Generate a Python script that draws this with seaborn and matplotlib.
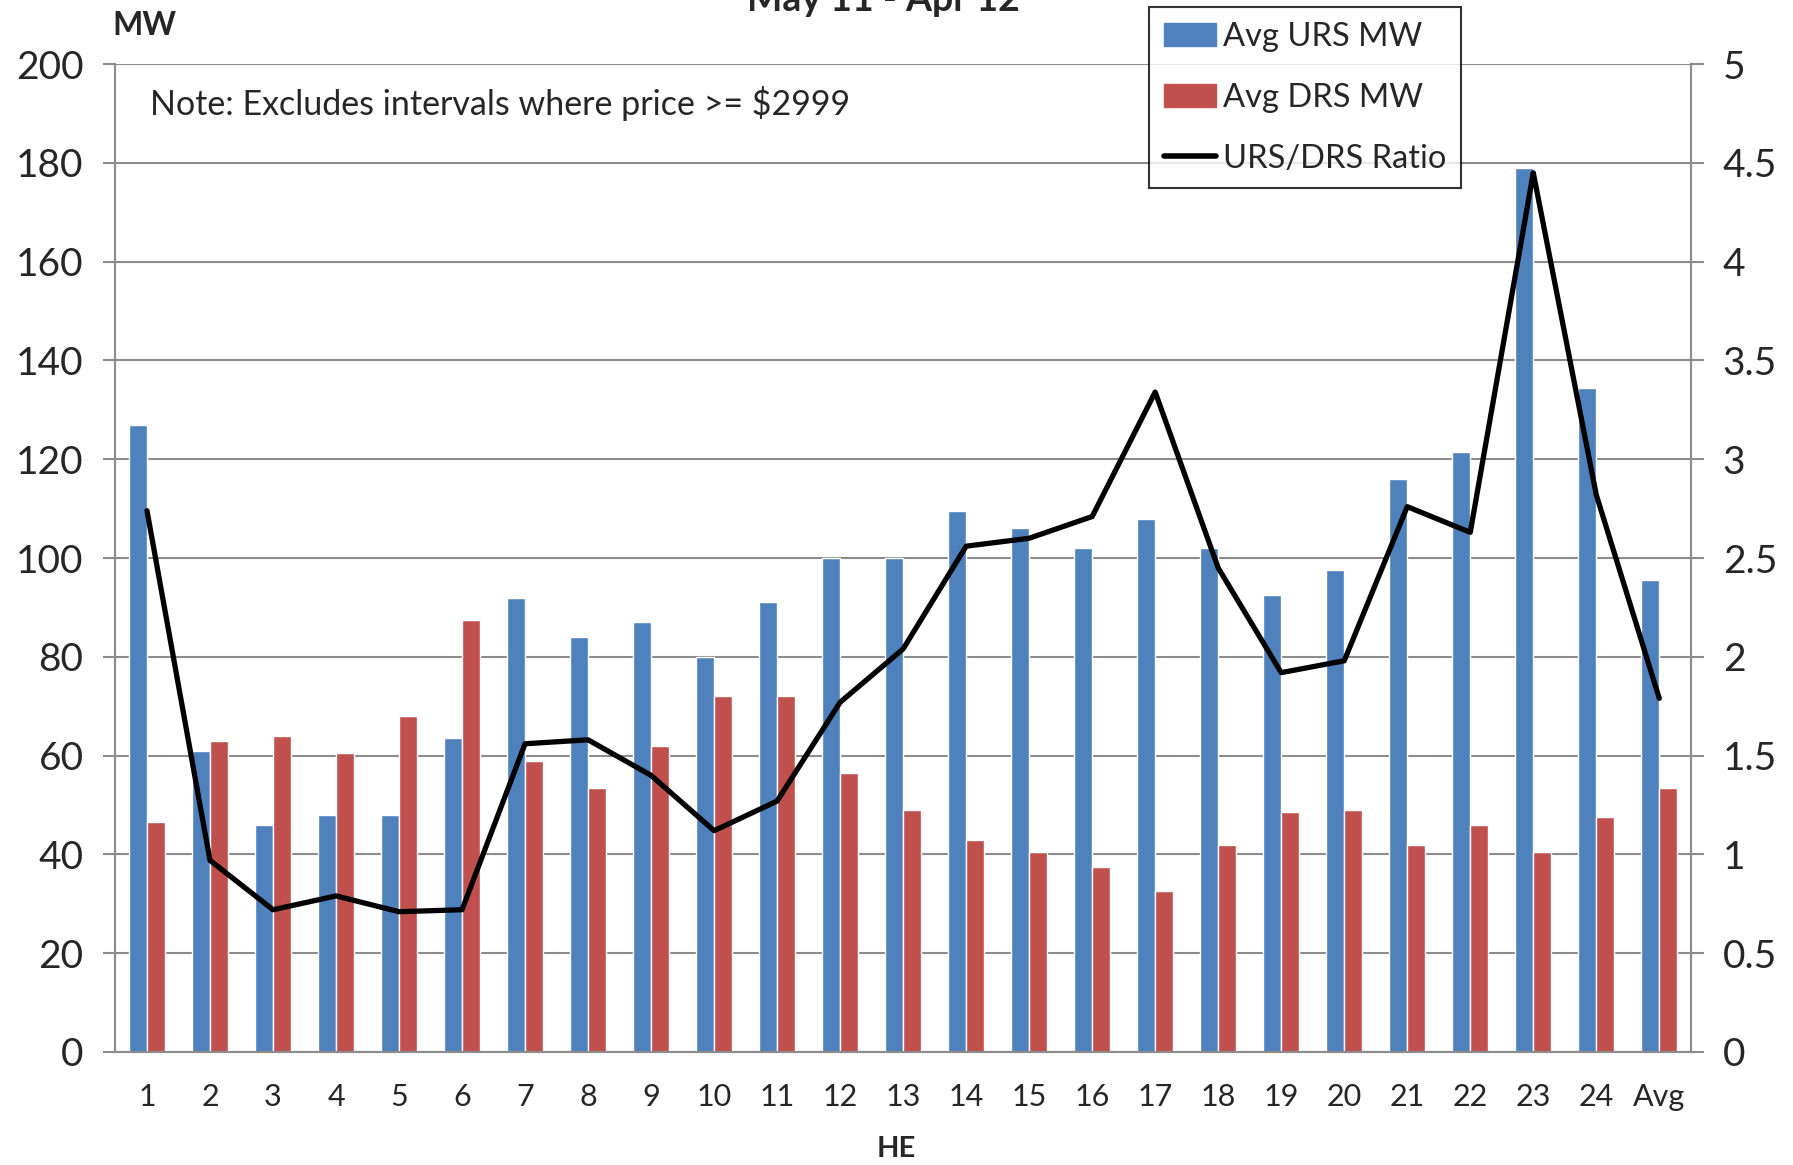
import numpy as np
import pandas as pd
import matplotlib
matplotlib.use('Agg')
import matplotlib.pyplot as plt
import seaborn as sns
from matplotlib.patches import Patch
from matplotlib.lines import Line2D

# Hour ending categories
hours = [str(h) for h in range(1, 25)] + ['Avg']

# Average URS / DRS MW by hour ending
urs_mw = [127, 61, 46, 48, 48, 63.5, 92, 84, 87, 80, 91, 100, 100, 109.5, 106,
          102, 108, 102, 92.5, 97.5, 116, 121.5, 179, 134.5, 95.5]
drs_mw = [46.5, 63, 64, 60.5, 68, 87.5, 59, 53.5, 62, 72, 72, 56.5, 49, 43, 40.5,
          37.5, 32.5, 42, 48.5, 49, 42, 46, 40.5, 47.5, 53.5]
ratio = [2.74, 0.97, 0.72, 0.79, 0.71, 0.72, 1.56, 1.58, 1.40, 1.12, 1.27, 1.77,
         2.04, 2.56, 2.60, 2.71, 3.34, 2.45, 1.92, 1.98, 2.76, 2.63, 4.45, 2.82, 1.79]

blue = '#4F81BD'
red = '#C0504D'
grid_col = '#8C8C8C'

sns.set_style('white')
plt.rcParams['font.family'] = ['Lato', 'DejaVu Sans']

df = pd.DataFrame({
    'HE': hours * 2,
    'MW': urs_mw + drs_mw,
    'series': ['Avg URS MW'] * len(hours) + ['Avg DRS MW'] * len(hours),
})

fig = plt.figure(figsize=(17.93, 11.65), dpi=100)
ax = fig.add_axes([0.0644, 0.097, 0.8786, 0.848])

sns.barplot(data=df, x='HE', y='MW', hue='series', order=hours,
            palette=[blue, red], width=0.57, gap=0, saturation=1,
            legend=False, ax=ax)

ax.set_xlim(-0.5, len(hours) - 0.5)
ax.set_ylim(0, 200)
ax.set_yticks(np.arange(0, 201, 20))
ax.yaxis.grid(True, color=grid_col, linewidth=1.5)
ax.set_axisbelow(True)
ax.set_xlabel('')
ax.set_ylabel('')

# category boundary ticks on x
ax.set_xticks(np.arange(len(hours)))
ax.set_xticklabels(hours)
ax.set_xticks(np.arange(-0.5, len(hours)), minor=True)
ax.tick_params(axis='x', which='major', length=0, labelsize=22, pad=22)
ax.tick_params(axis='x', which='minor', length=9, width=1.5, color=grid_col, direction='out')
ax.tick_params(axis='y', length=9, width=1.5, color=grid_col, direction='out', labelsize=28, pad=14)

for s in ['left', 'bottom', 'right']:
    ax.spines[s].set_color(grid_col)
    ax.spines[s].set_linewidth(1.5)
ax.spines['top'].set_visible(False)

ax2 = ax.twinx()
sns.lineplot(x=np.arange(len(hours)), y=ratio, color='black', linewidth=3.8, ax=ax2)
ax2.set_ylim(0, 5)
ax2.set_yticks(np.arange(0, 5.01, 0.5))
ax2.set_yticklabels(['0', '0.5', '1', '1.5', '2', '2.5', '3', '3.5', '4', '4.5', '5'])
ax2.tick_params(axis='y', length=9, width=1.5, color=grid_col, direction='out', labelsize=28, pad=14)
for s in ['left', 'bottom', 'right']:
    ax2.spines[s].set_color(grid_col)
    ax2.spines[s].set_linewidth(1.5)
ax2.spines['top'].set_visible(False)
ax2.set_xlim(-0.5, len(hours) - 0.5)

fig.text(0.4925, 1.0, 'May 11 - Apr 12', ha='center', va='center', fontsize=27, fontweight='bold')
fig.text(0.0625, 0.978, 'MW', ha='left', va='center', fontsize=23, fontweight='bold')
fig.text(0.5, 0.014, 'HE', ha='center', va='center', fontsize=21, fontweight='bold')
ax.text(0.022, 0.96, 'Note: Excludes intervals where price >= $2999', transform=ax.transAxes,
        ha='left', va='center', fontsize=24.5)

handles = [Patch(color=blue, label='Avg URS MW'),
           Patch(color=red, label='Avg DRS MW'),
           Line2D([], [], color='black', linewidth=4, label='URS/DRS Ratio')]
leg = fig.legend(handles=handles, loc='upper left', bbox_to_anchor=(0.641, 0.994),
                 fontsize=23.5, frameon=True, fancybox=False, edgecolor='black',
                 labelspacing=0.95, handlelength=1.6, handletextpad=0.2,
                 borderpad=0.45, borderaxespad=0)
leg.get_frame().set_linewidth(1.5)

fig.savefig('out.png', dpi=100)
